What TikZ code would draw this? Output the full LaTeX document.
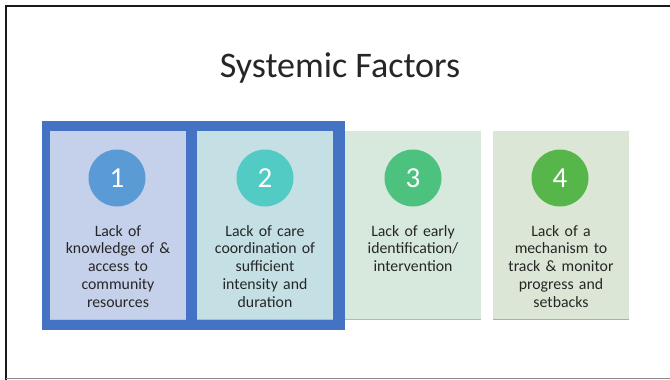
\documentclass[tikz,border=0pt]{standalone}
\usepackage{fontspec}
\setmainfont{Carlito}
\definecolor{frameblue}{HTML}{4472C4}
\definecolor{fillA}{HTML}{C5D0EA}
\definecolor{fillB}{HTML}{C4E0E5}
\definecolor{fillC}{HTML}{D6E9DC}
\definecolor{fillD}{HTML}{DCE6D6}
\definecolor{circA}{HTML}{5B9BD5}
\definecolor{circB}{HTML}{52CBC4}
\definecolor{circC}{HTML}{4CC27E}
\definecolor{circD}{HTML}{56B64A}
\definecolor{lineA}{HTML}{A9C4E4}
\definecolor{lineB}{HTML}{7FD3CB}
\definecolor{lineC}{HTML}{8CD39F}
\definecolor{lineD}{HTML}{8EC582}
\definecolor{txt}{HTML}{262626}
\tikzset{
  card/.style={draw=none, minimum width=136pt, minimum height=188pt, inner sep=0pt, anchor=north west},
  numcirc/.style={circle, minimum size=57pt, inner sep=0pt, text=white, font=\fontsize{29}{32}\selectfont},
  cardtext/.style={text width=134pt, align=center, inner sep=0pt, anchor=base, text=txt, font=\fontsize{15.8}{17.8}\selectfont},
}
\begin{document}
\begin{tikzpicture}[x=1pt,y=-1pt]
\useasboundingbox (0,0) rectangle (670,380);
\fill[white] (0,0) rectangle (670,380);
% slide frame
\draw[line width=2pt, black!90] (6,380) -- (6,6) -- (670,6);
\draw[line width=1.5pt, black!45] (6,378.5) -- (670,378.5);
% title
\node[anchor=base, text=txt, font=\fontsize{36}{40}\selectfont, inner sep=0pt] (title) at (340,77) {Systemic Factors};
% highlight frame
\fill[frameblue] (41.5,121) rectangle (345,330);
% cards
\node[card, fill=fillA] (c1) at (50,131) {};
\node[card, fill=fillB] (c2) at (197,131) {};
\node[card, fill=fillC] (c3) at (345,131) {};
\node[card, fill=fillD] (c4) at (493,131) {};
\draw[lineA, line width=1pt] (c1.south west) -- (c1.south east);
\draw[lineB, line width=1pt] (c2.south west) -- (c2.south east);
\draw[lineC, line width=1pt] (c3.south west) -- (c3.south east);
\draw[lineD, line width=1pt] (c4.south west) -- (c4.south east);
% circles
\node[numcirc, fill=circA] (n1) at (117,178) {1};
\node[numcirc, fill=circB] (n2) at (265,178) {2};
\node[numcirc, fill=circC] (n3) at (413,178) {3};
\node[numcirc, fill=circD] (n4) at (560,178) {4};
% texts
\node[cardtext] (t1) at (118,236) {Lack of\\knowledge of \&\\access to\\community\\resources};
\node[cardtext] (t2) at (265,236) {Lack of care\\coordination of\\sufficient\\intensity and\\duration};
\node[cardtext] (t3) at (413,236) {Lack of early\\identification/\\intervention};
\node[cardtext] (t4) at (561,236) {Lack of a\\mechanism to\\track \& monitor\\progress and\\setbacks};
\end{tikzpicture}
\end{document}
